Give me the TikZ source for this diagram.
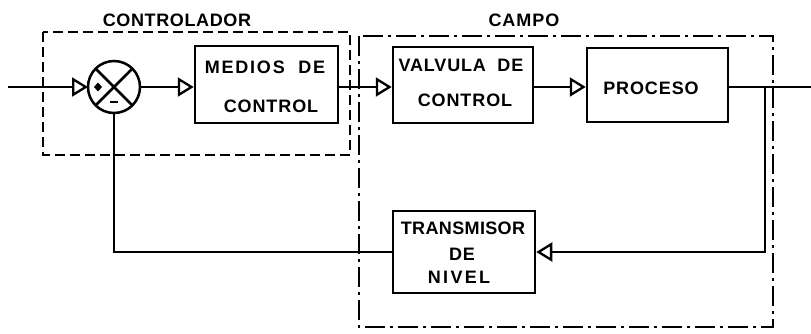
\documentclass[tikz,border=0pt]{standalone}
\usepackage{fontspec}
\setmainfont{Liberation Sans}
\usetikzlibrary{arrows.meta}
\begin{document}
\begin{tikzpicture}[x=1pt,y=-1pt,line width=2.5pt,
  blk/.style={draw,rectangle,inner sep=0pt},
  txt/.style={font=\fontsize{18}{18}\selectfont\bfseries\addfontfeature{LetterSpace=#1},inner sep=0pt,anchor=center},
  txt/.default=5,
  arr/.style={-{Triangle[open,length=16pt,width=19pt,line width=2.3pt]}},
  ctrlbox/.style={dash pattern=on 10pt off 5pt},
  campobox/.style={dash pattern=on 20pt off 5pt on 3pt off 5pt}]
\useasboundingbox (0,0) rectangle (811,333);

% frames
\draw[ctrlbox] (43,32) rectangle (350,155);
\draw[campobox] (359,36) rectangle (773,327);
\node[txt=3.5] (lctrl) at (177,20) {CONTROLADOR};
\node[txt=5.5] (lcampo) at (524,20) {CAMPO};

% summing junction
\node[draw,circle,minimum size=52pt,inner sep=0pt,outer sep=0pt] (sum) at (114,87) {};
\draw (sum.north west) -- (sum.south east);
\draw (sum.north east) -- (sum.south west);
\fill[shift={(98,87)}] (-4,0) -- (0,-4.5) -- (4,0) -- (0,4.5) -- cycle;
\draw[line width=2.2pt] (110,102) -- (118,102);

% blocks
\node[blk,minimum width=143pt,minimum height=77pt] (medios) at (266.5,84.5) {};
\node[txt=10] (tm1) at (265,67) {MEDIOS\ \ DE};
\node[txt=5] (tm2) at (271,106) {CONTROL};

\node[blk,minimum width=140pt,minimum height=76pt] (valv) at (463,85) {};
\node[txt=4.5] (tv1) at (461,65) {VALVULA\ \ DE};
\node[txt=5] (tv2) at (465,100) {CONTROL};

\node[blk,minimum width=141pt,minimum height=74pt] (proc) at (657.5,85) {};
\node[txt=5] (tp) at (651,88) {PROCESO};

\node[blk,minimum width=142pt,minimum height=82pt] (trans) at (464,252) {};
\node[txt=2] (tt1) at (463,228) {TRANSMISOR};
\node[txt=5] (tt2) at (462,254) {DE};
\node[txt=13] (tt3) at (459,277) {NIVEL};

% connectors
\coordinate (in) at (8,87);
\coordinate (out) at (811,87);
\coordinate (fbtop) at (765,87);
\coordinate (fbcorner) at (765,252);

\draw[arr] (in) -- (sum.west);
\draw[arr] (sum.east) -- (medios.west |- sum.center);
\draw[arr] (medios.east |- sum.center) -- (valv.west |- sum.center);
\draw[arr] (valv.east |- sum.center) -- (proc.west |- sum.center);
\draw (proc.east |- sum.center) -- (out);
\draw[arr] (fbtop) -- (fbcorner) -- (trans.east);
\draw (trans.west) -- (sum.south |- trans.west) -- (sum.south);
\end{tikzpicture}
\end{document}
